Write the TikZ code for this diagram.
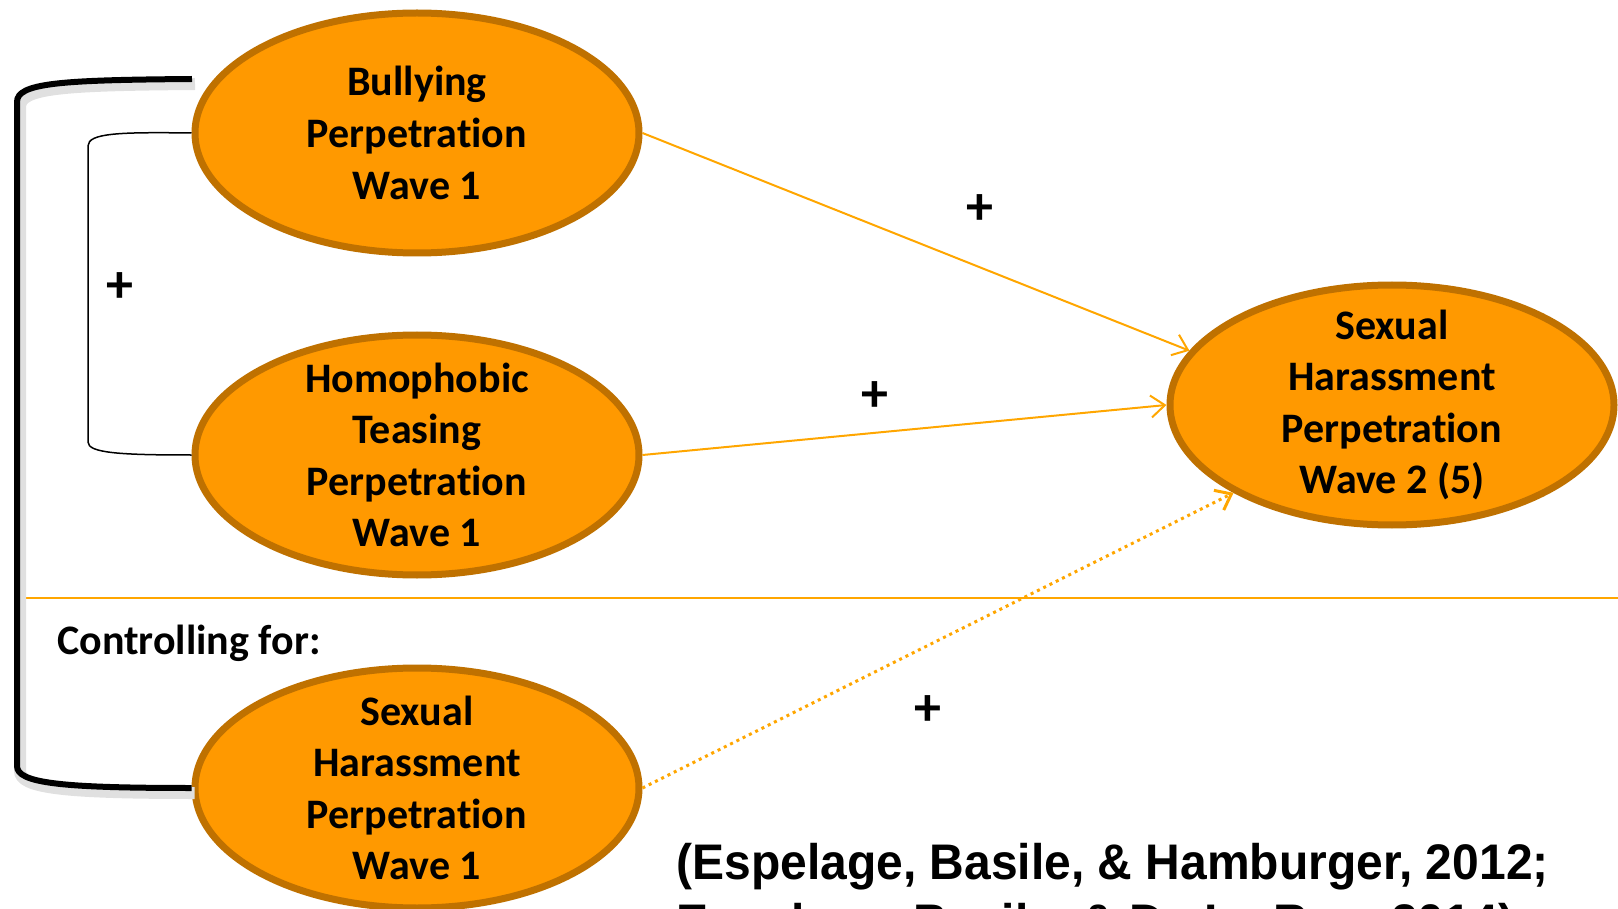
\documentclass[tikz,border=0pt]{standalone}
\usepackage{fontspec}
\setmainfont{Carlito}[Ligatures=NoCommon]
\newfontfamily\citefont[FakeStretch=0.96]{Liberation Sans}
\usetikzlibrary{shapes.geometric,arrows.meta}
\definecolor{ovalfill}{RGB}{255,153,0}
\definecolor{ovalline}{RGB}{191,113,0}
\definecolor{linkline}{RGB}{255,166,0}

\begin{document}
\begin{tikzpicture}[x=0.5pt,y=-0.5pt,
    oval/.style={ellipse, fill=ovalfill, draw=ovalline, line width=3.5pt,
      minimum width=222pt, minimum height=120pt, inner sep=0pt},
    ovaltext/.style={align=center, inner sep=0pt,
      font=\fontsize{21}{25.8}\selectfont\bfseries},
    plus/.style={font=\fontsize{27}{30}\selectfont\bfseries},
    cite/.style={font=\citefont\fontsize{25}{30}\selectfont\bfseries, inner sep=0pt}]
  \useasboundingbox (0,0) rectangle (1618,909);
  \clip (0,0) rectangle (1618,909);

  % separator
  \coordinate (rulel) at (21,598);
  \coordinate (ruler) at (1618,598);
  \draw[linkline, line width=1pt] (rulel) -- (ruler);

  \begin{scope}[every node/.style={oval}]
    \node (bully) at (417,133)
      [label={[ovaltext]center:Bullying\\Perpetration\\Wave 1}] {};
    \node (homo) at (417,455)
      [label={[ovaltext]center:Homophobic\\Teasing\\Perpetration\\Wave 1}] {};
    \node (sh1) at (417,788)
      [label={[ovaltext]center:Sexual\\Harassment\\Perpetration\\Wave 1}] {};
    \node (sh2) at (1392,405)
      [label={[ovaltext]center:Sexual\\Harassment\\Perpetration\\Wave 2 (5)}] {};
  \end{scope}

  \begin{scope}[every edge/.style={draw=linkline, line width=1pt,
      -{Straight Barb[length=7pt,width=11pt]}}]
    \path (bully.east) edge (sh2.165);
    \path (homo.east) edge (sh2.180);
    \path (sh1.east) edge[line width=1.5pt, dotted] (sh2.209);
  \end{scope}

  % brackets
  \draw[line width=0.75pt] (bully.west) .. controls (120,132) and (88,133) .. (88,146)
    -- (88,442) .. controls (88,453) and (120,455) .. (homo.west);
  \coordinate (topend) at (192,79);
  \draw[line width=3pt, preaction={draw=black!12, line width=6pt,
      transform canvas={xshift=1.5pt,yshift=-2.5pt}}]
    (topend) .. controls (60,80) and (17,83) .. (17,102)
    -- (17,766) .. controls (17,783) and (60,788) .. (sh1.west);

  \node[plus] (p1) at (980,210) {+};
  \node[plus] (p2) at (875,397) {+};
  \node[plus] (p3) at (928,711) {+};
  \node[plus] (p4) at (120,288) {+};

  \node[ovaltext, anchor=base west] (ctrl) at (57,654) {Controlling for:};
  \node[cite, anchor=base west] (ref1) at (676,879) {(Espelage, Basile, \& Hamburger, 2012;};
  \node[cite, anchor=base west] (ref2) at (676,939) {Espelage, Basile, \& De La Rue, 2014)};
\end{tikzpicture}
\end{document}
